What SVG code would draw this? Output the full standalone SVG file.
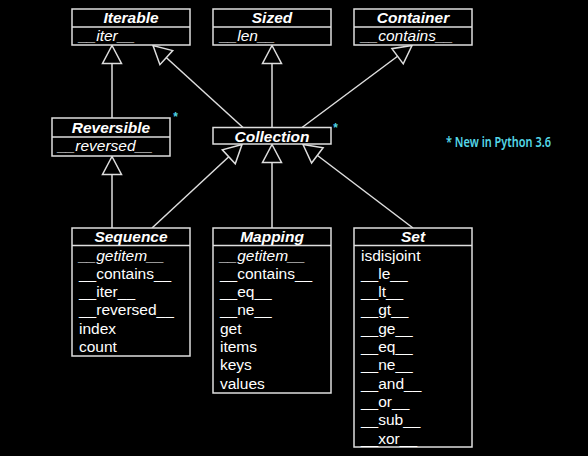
<svg xmlns="http://www.w3.org/2000/svg" width="588" height="456" viewBox="0 0 588 456">
<defs>
<style>
.box{fill:#000;stroke:#dedede;stroke-width:1.5}
.div{stroke:#dedede;stroke-width:1.5}
.title{font-family:"Liberation Sans",Arial,sans-serif;font-size:15.5px;font-weight:bold;font-style:italic;fill:#fff;text-anchor:middle}
.m{font-family:"Liberation Sans",Arial,sans-serif;font-size:15.5px;fill:#fff}
.mi{font-family:"Liberation Sans",Arial,sans-serif;font-size:15.5px;font-style:italic;fill:#fff}
.conn{stroke:#dedede;stroke-width:1.5;fill:none;marker-end:url(#tri)}
.star{font-family:"Liberation Sans",Arial,sans-serif;font-size:12px;font-weight:bold;fill:#4fd3e3;text-anchor:middle}
.note{font-family:"Noto Sans","Liberation Sans",sans-serif;font-size:14px;font-weight:600;fill:#55d8e8}
</style>
<marker id="tri" markerUnits="userSpaceOnUse" markerWidth="22" markerHeight="22" viewBox="-20 -11 22 22" refX="0" refY="0" orient="auto" overflow="visible">
<path d="M0,0 L-18,-9.5 L-18,9.5 Z" fill="#000" stroke="#dedede" stroke-width="1.5" stroke-linejoin="miter"/>
</marker>
</defs>
<rect x="0" y="0" width="588" height="456" fill="#000"/>

<g id="connectors">
<line class="conn" x1="112" y1="118" x2="112" y2="45.5"/>
<line class="conn" x1="243" y1="127.5" x2="153" y2="45.5"/>
<line class="conn" x1="272" y1="127.5" x2="272" y2="45.5"/>
<line class="conn" x1="302" y1="127.5" x2="412" y2="45.5"/>
<line class="conn" x1="112" y1="228" x2="112" y2="156.5"/>
<line class="conn" x1="152" y1="228" x2="242" y2="144.5"/>
<line class="conn" x1="272" y1="228" x2="272" y2="144.5"/>
<line class="conn" x1="413" y1="228" x2="303" y2="144.5"/>
</g>

<g id="iterable">
<rect class="box" x="72" y="9" width="118" height="36"/>
<line class="div" x1="72" y1="27" x2="190" y2="27"/>
<text class="title" x="131" y="23">Iterable</text>
<text class="mi" x="79" y="41">__iter__</text>
</g>

<g id="sized">
<rect class="box" x="213" y="9" width="118" height="36"/>
<line class="div" x1="213" y1="27" x2="331" y2="27"/>
<text class="title" x="272" y="23">Sized</text>
<text class="mi" x="220" y="41">__len__</text>
</g>

<g id="container">
<rect class="box" x="354" y="9" width="118" height="36"/>
<line class="div" x1="354" y1="27" x2="472" y2="27"/>
<text class="title" x="413" y="23">Container</text>
<text class="mi" x="361" y="41">__contains__</text>
</g>

<g id="reversible">
<rect class="box" x="52" y="118" width="118" height="38"/>
<line class="div" x1="52" y1="137" x2="170" y2="137"/>
<text class="title" x="111" y="132.5">Reversible</text>
<text class="mi" x="58" y="151">__reversed__</text>
<text class="star" x="175.5" y="121">*</text>
</g>

<g id="collection">
<rect class="box" x="213" y="127.5" width="118" height="16.5"/>
<text class="title" x="272" y="141.5">Collection</text>
<text class="star" x="335.5" y="132">*</text>
</g>

<g id="sequence">
<rect class="box" x="72" y="228" width="118" height="128"/>
<line class="div" x1="72" y1="245.5" x2="190" y2="245.5"/>
<text class="title" x="131" y="242">Sequence</text>
<text class="mi" x="79" y="260.5">__getitem__</text>
<text class="m" x="79" y="278.8">__contains__</text>
<text class="m" x="79" y="297.1">__iter__</text>
<text class="m" x="79" y="315.4">__reversed__</text>
<text class="m" x="79" y="333.7">index</text>
<text class="m" x="79" y="352">count</text>
</g>

<g id="mapping">
<rect class="box" x="213" y="228" width="118" height="165"/>
<line class="div" x1="213" y1="245.5" x2="331" y2="245.5"/>
<text class="title" x="272" y="242">Mapping</text>
<text class="mi" x="220" y="260.5">__getitem__</text>
<text class="m" x="220" y="278.8">__contains__</text>
<text class="m" x="220" y="297.1">__eq__</text>
<text class="m" x="220" y="315.4">__ne__</text>
<text class="m" x="220" y="333.7">get</text>
<text class="m" x="220" y="352">items</text>
<text class="m" x="220" y="370.3">keys</text>
<text class="m" x="220" y="388.6">values</text>
</g>

<g id="set">
<rect class="box" x="354" y="228" width="118" height="219"/>
<line class="div" x1="354" y1="245.5" x2="472" y2="245.5"/>
<text class="title" x="413" y="242">Set</text>
<text class="m" x="361" y="260.5">isdisjoint</text>
<text class="m" x="361" y="278.8">__le__</text>
<text class="m" x="361" y="297.1">__lt__</text>
<text class="m" x="361" y="315.4">__gt__</text>
<text class="m" x="361" y="333.7">__ge__</text>
<text class="m" x="361" y="352">__eq__</text>
<text class="m" x="361" y="370.3">__ne__</text>
<text class="m" x="361" y="388.6">__and__</text>
<text class="m" x="361" y="406.9">__or__</text>
<text class="m" x="361" y="425.2">__sub__</text>
<text class="m" x="361" y="443.5">__xor__</text>
</g>

<g id="note">
<text class="note" x="446" y="146.5" textLength="105" lengthAdjust="spacingAndGlyphs">* New in Python 3.6</text>
</g>
</svg>
